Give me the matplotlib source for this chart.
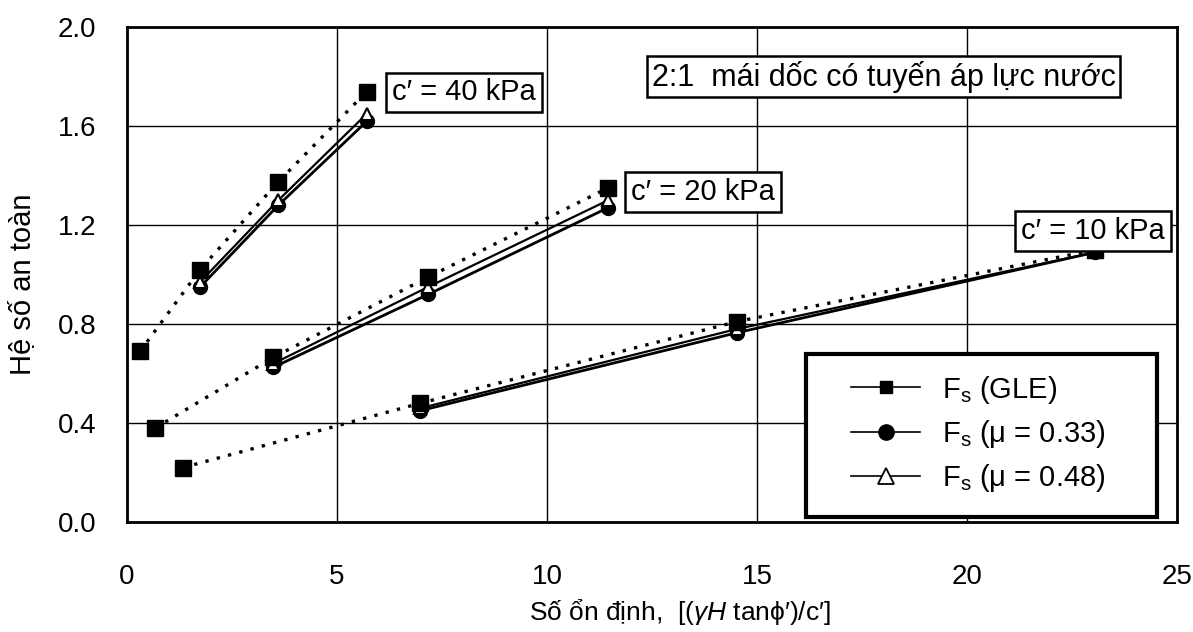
import matplotlib
matplotlib.use("Agg")
import matplotlib.pyplot as plt
from matplotlib.lines import Line2D
from matplotlib.patches import Rectangle

plt.rcParams['font.family'] = ['Liberation Sans', 'DejaVu Sans']
plt.rcParams['mathtext.fontset'] = 'custom'
plt.rcParams['mathtext.rm'] = 'Liberation Sans'
plt.rcParams['mathtext.it'] = 'Liberation Sans:italic'
plt.rcParams['mathtext.bf'] = 'Liberation Sans:bold'

# ---- data ----
# c' = 40 kPa
x40_gle = [0.31, 1.74, 3.60, 5.71]
y40_gle = [0.69, 1.02, 1.375, 1.74]
x40 = [1.74, 3.60, 5.71]
y40_m033 = [0.95, 1.28, 1.62]
y40_m048 = [0.97, 1.30, 1.65]
# c' = 20 kPa
x20_gle = [0.67, 3.48, 7.17, 11.45]
y20_gle = [0.38, 0.665, 0.99, 1.35]
x20 = [3.48, 7.17, 11.45]
y20_m033 = [0.625, 0.92, 1.27]
y20_m048 = [0.64, 0.95, 1.30]
# c' = 10 kPa
x10_gle = [1.33, 6.98, 14.52, 23.05]
y10_gle = [0.22, 0.48, 0.81, 1.10]
x10 = [6.98, 14.52, 23.05]
y10_m033 = [0.45, 0.765, 1.09]
y10_m048 = [0.46, 0.78, 1.09]

xticks = [0, 5, 10, 15, 20, 25]
yticks = [0.0, 0.4, 0.8, 1.2, 1.6, 2.0]
ytick_labels = ["0.0", "0.4", "0.8", "1.2", "1.6", "2.0"]

labels = [r"F$_\mathrm{s}$ (GLE)", r"F$_\mathrm{s}$ ($\mathrm{\mu}$ = 0.33)", r"F$_\mathrm{s}$ ($\mathrm{\mu}$ = 0.48)"]

fig = plt.figure(figsize=(11.93, 6.32), dpi=100)
ax = fig.add_axes([0.1065, 0.174, 0.88, 0.783])

ax.set_xlim(0, 25)
ax.set_ylim(0, 2.0)
ax.set_xticks(xticks)
ax.set_yticks(yticks)
ax.set_yticklabels(ytick_labels)
ax.tick_params(axis='both', length=0, labelsize=20)
ax.tick_params(axis='x', pad=30)
ax.tick_params(axis='y', pad=22)
ax.grid(True, color='black', linewidth=1.0)
ax.set_axisbelow(True)
for s in ax.spines.values():
    s.set_linewidth(2.0)

for xg, yg, xs, y33, y48 in [
    (x40_gle, y40_gle, x40, y40_m033, y40_m048),
    (x20_gle, y20_gle, x20, y20_m033, y20_m048),
    (x10_gle, y10_gle, x10, y10_m033, y10_m048),
]:
    ax.plot(xs, y33, '-', color='black', lw=2.0, marker='o', ms=10, mfc='black', zorder=3)
    ax.plot(xs, y48, '-', color='black', lw=1.6, marker='^', ms=9, mfc='white', mec='black', mew=1.5, zorder=4)
    ax.plot(xg, yg, linestyle=(0, (1, 2.5)), color='black', lw=2.4, marker='s', ms=11, mfc='black', zorder=5)

box = dict(boxstyle='square,pad=0.2', fc='white', ec='black', lw=1.8)
ax.text(8.02, 1.736, "c\u2032 = 40 kPa", ha='center', va='center', fontsize=21, bbox=box, zorder=6)
ax.text(13.71, 1.335, "c\u2032 = 20 kPa", ha='center', va='center', fontsize=21, bbox=box, zorder=6)
ax.text(23.0, 1.176, "c\u2032 = 10 kPa", ha='center', va='center', fontsize=21, bbox=box, zorder=6)
ax.text(18.02, 1.80, "2:1  mái dốc có tuyến áp lực nước", ha='center', va='center', fontsize=22,
        bbox=dict(boxstyle='square,pad=0.15', fc='white', ec='black', lw=1.8), zorder=6)

# legend (frame drawn separately)
ax.add_patch(Rectangle((0.647, 0.01), 0.334, 0.33, transform=ax.transAxes,
                       fc='white', ec='black', lw=3, zorder=7))
handles = [
    Line2D([], [], color='black', lw=1.2, marker='s', ms=9, mfc='black'),
    Line2D([], [], color='black', lw=1.2, marker='o', ms=11, mfc='black'),
    Line2D([], [], color='black', lw=1.2, marker='^', ms=12, mfc='white', mec='black', mew=1.3),
]
leg = ax.legend(handles, labels, loc='center left', bbox_to_anchor=(0.690, 0.178),
                fontsize=21, frameon=False, handlelength=2.35, labelspacing=0.42,
                borderaxespad=0, borderpad=0, handletextpad=0.75)
leg.set_zorder(8)

ax.set_ylabel("Hệ số an toàn", fontsize=21)
ax.yaxis.set_label_coords(-0.087, 0.48)
ax.set_xlabel(r"Số ổn định,  [($\gamma H$ tan$\mathrm{\phi}$′)/c′]", fontsize=19, va='center')
ax.xaxis.set_label_coords(0.527, -0.182)

fig.savefig("out.png", dpi=100)
